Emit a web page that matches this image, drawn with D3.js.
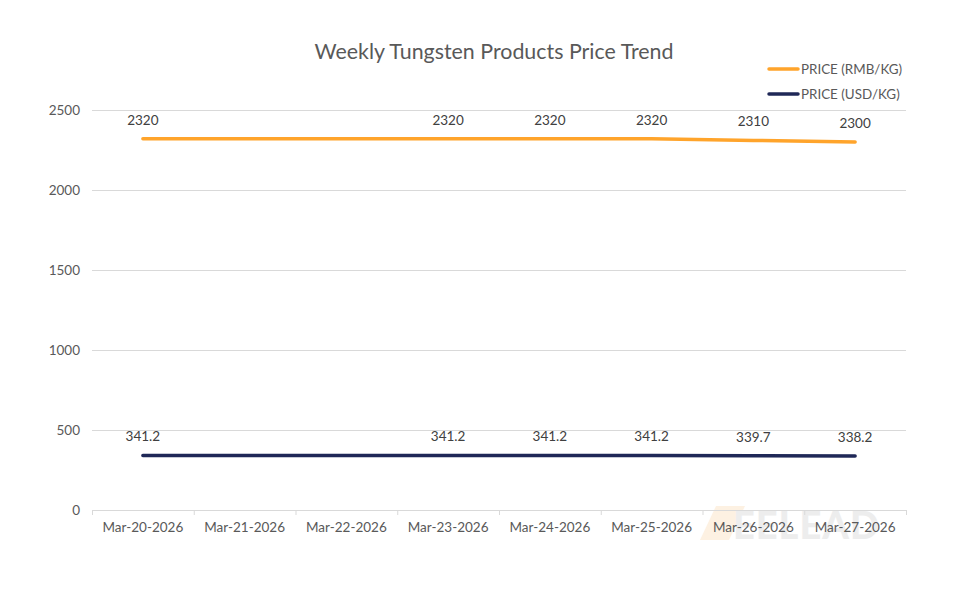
<!DOCTYPE html>
<html>
<head>
<meta charset="utf-8">
<script src="https://cdn.jsdelivr.net/npm/d3@7"></script>
<style>
  body { margin: 0; background: #fff; }
  svg { font-family: Lato, "Open Sans", sans-serif; }
</style>
</head>
<body>
<svg id="chart" width="980" height="600"></svg>
<script>
var dates = ['Mar-20-2026', 'Mar-21-2026', 'Mar-22-2026', 'Mar-23-2026',
             'Mar-24-2026', 'Mar-25-2026', 'Mar-26-2026', 'Mar-27-2026']
var rmbPrices = [2320, null, null, 2320, 2320, 2320, 2310, 2300]
var usdPrices = [341.2, null, null, 341.2, 341.2, 341.2, 339.7, 338.2]
var yTicks = [0, 500, 1000, 1500, 2000, 2500]

var series = [
  { name: 'PRICE (RMB/KG)', values: rmbPrices, color: '#FFA42B' },
  { name: 'PRICE (USD/KG)', values: usdPrices, color: '#1F2857' }
]

var svg = d3.select('#chart')
,   plotLeft = 92
,   plotRight = 906
,   plotTop = 110
,   plotBottom = 510

var x = d3.scaleBand().domain(dates).range([plotLeft, plotRight])
,   y = d3.scaleLinear().domain([0, 2500]).range([plotBottom, plotTop])

// watermark (faint logo behind the axis labels)
var wm = svg.append('g').attr('class', 'watermark')
wm.append('path')
  .attr('d', 'M700,540 L716,506 L745,506 L729,540 Z')
  .attr('fill', '#fdf1e2')
wm.append('text')
  .attr('x', 733).attr('y', 539)
  .attr('font-size', 38).attr('font-weight', 900)
  .attr('fill', '#ededed')
  .attr('letter-spacing', 1)
  .text('EELEAD')

// grid
svg.append('g')
  .selectAll('line')
  .data(yTicks)
  .enter().append('line')
  .attr('x1', plotLeft).attr('x2', plotRight)
  .attr('y1', (d) => y(d) + 0.5).attr('y2', (d) => y(d) + 0.5)
  .attr('stroke', '#d9d9d9').attr('stroke-width', 1)

// y labels
svg.append('g')
  .selectAll('text')
  .data(yTicks)
  .enter().append('text')
  .attr('x', 80).attr('y', (d) => y(d) + 5)
  .attr('text-anchor', 'end')
  .attr('font-size', 13.5).attr('fill', '#595959')
  .text((d) => d)

// x axis
var xAxis = d3.axisBottom(x).tickSize(0).tickPadding(12)
var gx = svg.append('g')
  .attr('transform', 'translate(0,' + plotBottom + ')')
  .call(xAxis)
gx.select('.domain').remove()
gx.selectAll('text').attr('font-size', 13.5).attr('fill', '#595959').attr('font-family', 'Lato, sans-serif')

svg.append('g')
  .selectAll('line')
  .data(d3.range(dates.length + 1))
  .enter().append('line')
  .attr('x1', (i) => plotLeft + i * x.step() + 0.5).attr('x2', (i) => plotLeft + i * x.step() + 0.5)
  .attr('y1', plotBottom).attr('y2', plotBottom + 5)
  .attr('stroke', '#d9d9d9')

// lines
var line = d3.line()
  .x((d) => x(d.date) + x.bandwidth() / 2)
  .y((d) => y(d.value))

series.forEach((s) => {
  var pts = dates.map((date, i) => ({ date: date, value: s.values[i] }))
                 .filter((d) => d.value != null)

  svg.append('path')
    .datum(pts)
    .attr('d', line)
    .attr('fill', 'none')
    .attr('stroke', s.color)
    .attr('stroke-width', 3.5)
    .attr('stroke-linecap', 'round')
    .attr('stroke-linejoin', 'round')

  svg.append('g')
    .selectAll('text')
    .data(pts)
    .enter().append('text')
    .attr('x', (d) => x(d.date) + x.bandwidth() / 2)
    .attr('y', (d) => y(d.value) - 14)
    .attr('text-anchor', 'middle')
    .attr('font-size', 13.5).attr('fill', '#404040')
    .text((d) => d.value)
})

// title
svg.append('text')
  .attr('x', 494).attr('y', 59)
  .attr('text-anchor', 'middle')
  .attr('font-size', 21.4).attr('fill', '#595959')
  .text('Weekly Tungsten Products Price Trend')

// legend
var legend = svg.append('g')
  .selectAll('g')
  .data(series)
  .enter().append('g')
  .attr('transform', (d, i) => 'translate(769,' + (69 + i * 25) + ')')

legend.append('line')
  .attr('x1', 0).attr('x2', 29)
  .attr('stroke', (d) => d.color)
  .attr('stroke-width', 3.5)
  .attr('stroke-linecap', 'round')

legend.append('text')
  .attr('x', 32).attr('y', 4.5)
  .attr('font-size', 13.4).attr('fill', '#595959')
  .text((d) => d.name)
</script>
</body>
</html>
